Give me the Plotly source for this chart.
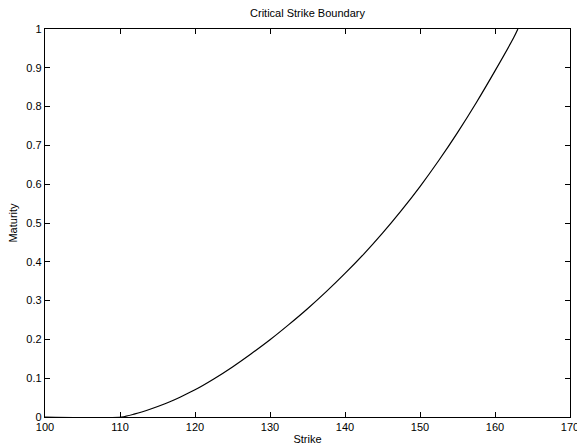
import plotly.graph_objects as go

# Critical strike boundary: maturity at which early exercise becomes optimal
strike = [100, 110.2, 112, 114, 116, 118, 120, 122.5, 125, 127.5, 130, 132.5,
          135, 137.5, 140, 142.5, 145, 147.5, 150, 152.5, 155, 157.5, 160,
          162.5, 163.05]
maturity = [0, 0, 0.008, 0.020, 0.034, 0.051, 0.070, 0.098, 0.129, 0.163,
            0.199, 0.238, 0.279, 0.323, 0.370, 0.420, 0.474, 0.532, 0.594,
            0.661, 0.733, 0.810, 0.892, 0.978, 1.0]

x_ticks = [100, 110, 120, 130, 140, 150, 160, 170]
y_ticks = [0, 0.1, 0.2, 0.3, 0.4, 0.5, 0.6, 0.7, 0.8, 0.9, 1]
y_tick_text = ["0", "0.1", "0.2", "0.3", "0.4", "0.5", "0.6", "0.7", "0.8", "0.9", "1"]

font = dict(family="Liberation Sans, Arial, sans-serif", size=11, color="black")

fig = go.Figure(go.Scatter(x=strike, y=maturity, mode="lines",
                           line=dict(color="black", width=1.2, shape="spline",
                                     smoothing=0.8),
                           showlegend=False, cliponaxis=True))

axis_common = dict(showgrid=False, zeroline=False, showline=True,
                   linecolor="black", linewidth=1.3, mirror="ticks",
                   ticks="inside", ticklen=5, tickwidth=1, tickcolor="black",
                   tickfont=font, automargin=False)

fig.update_xaxes(range=[100, 170], tickvals=x_ticks,
                 ticklabeloverflow="allow",
                 title=dict(text="Strike", font=font, standoff=2),
                 **axis_common)
fig.update_yaxes(range=[0, 1], tickvals=y_ticks, ticktext=y_tick_text,
                 title=dict(text="Maturity", font=font, standoff=6),
                 **axis_common)

fig.update_layout(
    width=577, height=446,
    margin=dict(l=45, r=7, t=29, b=28.5, pad=0),
    paper_bgcolor="white", plot_bgcolor="white",
    font=font,
    title=dict(text="Critical Strike Boundary", font=font,
               x=(45 + 570) / 2 / 577, xanchor="center",
               y=1 - 13 / 446, yanchor="middle"),
)

fig.write_html("out.html")
